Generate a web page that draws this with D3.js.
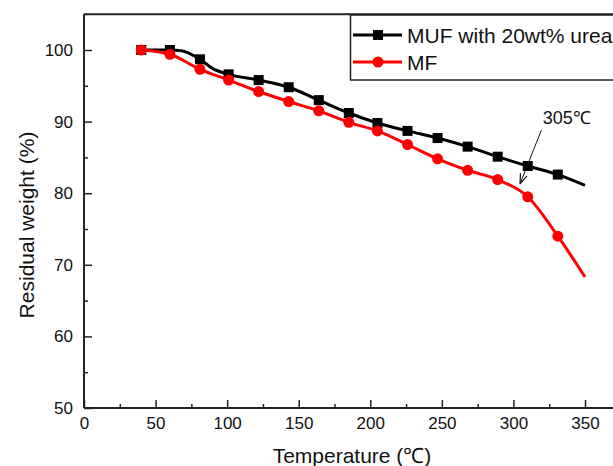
<!DOCTYPE html>
<html>
<head>
<meta charset="utf-8">
<script src="https://cdn.jsdelivr.net/npm/d3@7"></script>
<style>
  body { margin: 0; background: #fff; }
  svg { display: block; font-family: "Liberation Sans", Arial, sans-serif; }
</style>
</head>
<body>
<svg id="chart" width="613" height="466"></svg>
<script>
// temperatures where markers are drawn
const markerTemps = [40, 60, 81, 101, 122, 143, 164, 185, 205, 226, 247, 268, 289, 310, 331];

// MUF with 20wt% urea: [temperature, residual weight]
const mufSeries = [
  [40, 100], [60, 100], [68, 99.9], [81, 98.7], [90, 97.4], [101, 96.6],
  [122, 95.8], [143, 94.8], [164, 93.0], [185, 91.2], [205, 89.8],
  [226, 88.7], [247, 87.7], [268, 86.5], [289, 85.1], [310, 83.8],
  [331, 82.6], [350, 81.1]
];

// MF
const mfSeries = [
  [40, 100], [60, 99.4], [81, 97.3], [101, 95.8], [122, 94.2], [143, 92.8],
  [164, 91.5], [185, 89.9], [205, 88.7], [226, 86.8], [247, 84.8],
  [268, 83.2], [289, 81.9], [310, 79.5], [331, 74.0], [350, 68.3]
];

const seriesNames = ["MUF with 20wt% urea", "MF"];
const xTicks = [0, 50, 100, 150, 200, 250, 300, 350];
const yTicks = [50, 60, 70, 80, 90, 100];

// annotation: label position, arrow start, arrow tip (data units)
const annoText = "305\u2103";
const annoLabel = [320.5, 89.7];
const annoArrow = [[319.5, 88.8], [304.6, 81.3]];

const svg = d3.select("#chart");

const x = d3.scaleLinear().domain([0, 375]).range([84, 620.8]);
const y = d3.scaleLinear().domain([50, 105]).range([408, 14.2]);

// frame top line
svg.append("line")
  .attr("x1", x(0)).attr("x2", 613)
  .attr("y1", y(105)).attr("y2", y(105))
  .attr("stroke", "#222").attr("stroke-width", 2);

// minor ticks
svg.append("g")
  .attr("transform", "translate(0," + y(50) + ")")
  .call(d3.axisBottom(x).tickValues(d3.range(25, 376, 50)).tickSize(-4).tickFormat(""))
  .call(g => g.select(".domain").remove())
  .call(g => g.selectAll("line").attr("stroke", "#222").attr("stroke-width", 1.5));

svg.append("g")
  .attr("transform", "translate(" + x(0) + ",0)")
  .call(d3.axisLeft(y).tickValues(d3.range(55, 105, 10)).tickSize(-4).tickFormat(""))
  .call(g => g.select(".domain").remove())
  .call(g => g.selectAll("line").attr("stroke", "#222").attr("stroke-width", 1.5));

// major axes
const xAxis = svg.append("g")
  .attr("transform", "translate(0," + y(50) + ")")
  .call(d3.axisBottom(x).tickValues(xTicks).tickSizeInner(-8).tickSizeOuter(0).tickPadding(9));

const yAxis = svg.append("g")
  .attr("transform", "translate(" + x(0) + ",0)")
  .call(d3.axisLeft(y).tickValues(yTicks).tickSizeInner(-8).tickSizeOuter(0).tickPadding(11));

[xAxis, yAxis].forEach(function(g) {
  g.select(".domain").attr("stroke", "#222").attr("stroke-width", 2);
  g.selectAll(".tick line").attr("stroke", "#222").attr("stroke-width", 1.5);
  g.selectAll(".tick text").attr("fill", "#111").style("font-size", "17px")
    .style("font-family", "'Liberation Sans', Arial, sans-serif");
});
// extend bottom domain line to the right edge
xAxis.select(".domain").attr("d", "M" + x(0) + ",0H613");
yAxis.select(".domain").attr("d", "M0," + y(50) + "V" + y(105));

// axis titles
svg.append("text")
  .attr("x", 352).attr("y", 463)
  .attr("text-anchor", "middle")
  .style("font-size", "21px").attr("fill", "#111")
  .text("Temperature (\u2103)");

svg.append("text")
  .attr("transform", "translate(34," + 225 + ") rotate(-90)")
  .attr("text-anchor", "middle")
  .style("font-size", "21px").attr("fill", "#111")
  .text("Residual weight (%)");

// lines
const line = d3.line()
  .x(d => x(d[0]))
  .y(d => y(d[1]))
  .curve(d3.curveMonotoneX);

const colors = ["#000000", "#ff0000"];

svg.append("path").datum(mufSeries)
  .attr("d", line).attr("fill", "none")
  .attr("stroke", colors[0]).attr("stroke-width", 3);

svg.append("path").datum(mfSeries)
  .attr("d", line).attr("fill", "none")
  .attr("stroke", colors[1]).attr("stroke-width", 3);

// markers
svg.append("g").selectAll("rect")
  .data(mufSeries.filter(d => markerTemps.includes(d[0])))
  .join("rect")
  .attr("x", d => x(d[0]) - 5)
  .attr("y", d => y(d[1]) - 5)
  .attr("width", 10).attr("height", 10)
  .attr("fill", colors[0]);

svg.append("g").selectAll("circle")
  .data(mfSeries.filter(d => markerTemps.includes(d[0])))
  .join("circle")
  .attr("cx", d => x(d[0]))
  .attr("cy", d => y(d[1]))
  .attr("r", 5.5)
  .attr("fill", colors[1]);

// annotation
svg.append("defs").append("marker")
  .attr("id", "arrow")
  .attr("viewBox", "0 0 10 10")
  .attr("refX", 10).attr("refY", 5)
  .attr("markerWidth", 10).attr("markerHeight", 10)
  .attr("markerUnits", "userSpaceOnUse")
  .attr("orient", "auto")
  .append("path")
  .attr("d", "M0,1.5L10,5L0,8.5")
  .attr("fill", "none").attr("stroke", "#111").attr("stroke-width", 1.2);

svg.append("line")
  .attr("x1", x(annoArrow[0][0])).attr("y1", y(annoArrow[0][1]))
  .attr("x2", x(annoArrow[1][0])).attr("y2", y(annoArrow[1][1]))
  .attr("stroke", "#111").attr("stroke-width", 1)
  .attr("marker-end", "url(#arrow)");

svg.append("text")
  .attr("x", x(annoLabel[0])).attr("y", y(annoLabel[1]))
  .style("font-size", "18px").attr("fill", "#111")
  .text(annoText);

// legend
const legend = svg.append("g");
legend.append("rect")
  .attr("x", 350.5).attr("y", 15).attr("width", 280).attr("height", 65)
  .attr("fill", "#fff").attr("stroke", "#222").attr("stroke-width", 1.5);

seriesNames.forEach(function(name, i) {
  const ly = 35 + i * 27;
  legend.append("line")
    .attr("x1", 353).attr("x2", 402).attr("y1", ly).attr("y2", ly)
    .attr("stroke", colors[i]).attr("stroke-width", 3);
  if (i === 0) {
    legend.append("rect")
      .attr("x", 373).attr("y", ly - 5).attr("width", 10).attr("height", 10)
      .attr("fill", colors[i]);
  } else {
    legend.append("circle")
      .attr("cx", 378).attr("cy", ly).attr("r", 5.5)
      .attr("fill", colors[i]);
  }
  legend.append("text")
    .attr("x", 407).attr("y", ly + 8)
    .style("font-size", "21px").attr("fill", "#111")
    .text(name);
});
</script>
</body>
</html>
